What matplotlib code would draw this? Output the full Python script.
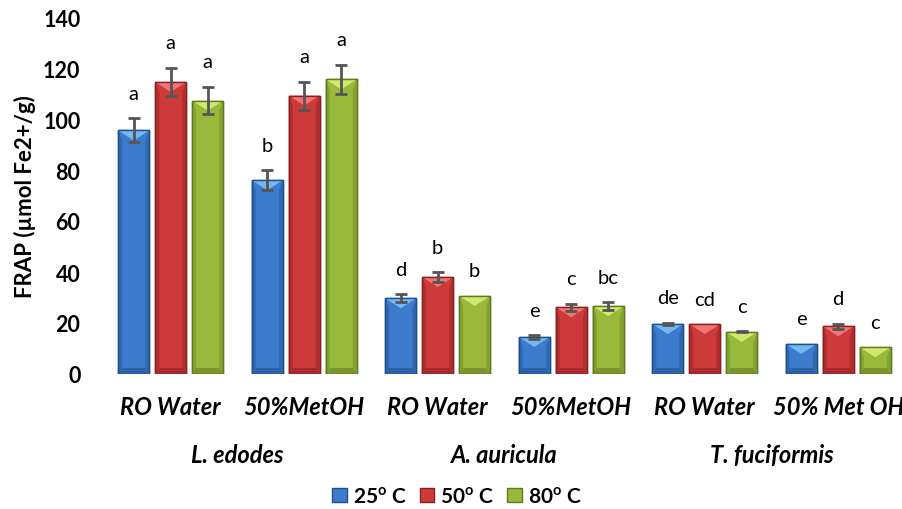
import numpy as np
import matplotlib
matplotlib.use("Agg")
import matplotlib.pyplot as plt
from matplotlib.patches import Polygon, Rectangle, Patch

# data
categories = ["RO Water", "50%MetOH", "RO Water", "50%MetOH", "RO Water", "50% Met OH"]
species = ["L. edodes", "A. auricula", "T. fuciformis"]
series = ["25$^{\\mathbf{o}}$ C", "50$^{\\mathbf{o}}$ C", "80$^{\\mathbf{o}}$ C"]

v25 = [95.5, 76.0, 29.7, 14.5, 19.6, 11.8]
e25 = [4.7, 3.9, 1.6, 0.7, 0.4, np.nan]
v50 = [114.5, 109.2, 38.0, 26.2, 19.6, 18.7]
e50 = [5.6, 5.5, 2.0, 1.3, np.nan, 1.0]
v80 = [107.2, 115.5, 30.6, 26.6, 16.5, 10.5]
e80 = [5.4, 5.8, np.nan, 1.5, 0.2, np.nan]

let25 = ["a", "b", "d", "e", "de", "e"]
let50 = ["a", "a", "b", "c", "cd", "d"]
let80 = ["a", "a", "b", "bc", "c", "c"]

# colours: main, light bevel, side shade, dark edge
main_c = ["#3d7ccc", "#cc3a3a", "#98b93c"]
light_c = ["#74b8f0", "#f07575", "#d2e76e"]
side_c = ["#3168b0", "#b02e2e", "#84a230"]
edge_c = ["#1f4e8c", "#8b2020", "#5f7a1f"]

plt.rcParams["font.family"] = "Lato"
plt.rcParams["mathtext.fontset"] = "custom"
plt.rcParams["mathtext.bf"] = "Lato:bold"
plt.rcParams["mathtext.rm"] = "Lato"

fig = plt.figure(figsize=(9.03, 5.10), dpi=100)
ax = fig.add_axes([104 / 903, 135 / 510, 801 / 903, 357 / 510])
ax.set_xlim(-0.5, 5.5)
ax.set_ylim(0, 140)

# pixel -> data conversion for bevel sizes
bb = ax.get_window_extent()
dx = 6.0 / bb.width
dy = 140.0 / bb.height

x = np.arange(len(categories))
width = 0.232
step = 0.277
vals = [v25, v50, v80]
errs = [e25, e50, e80]
lets = [let25, let50, let80]

for k in range(3):
    xs = x + (k - 1) * step
    bars = ax.bar(xs, vals[k], width, color=main_c[k], edgecolor=edge_c[k],
                  linewidth=1.0, zorder=2)
    for b in bars:
        x0, w, h = b.get_x(), b.get_width(), b.get_height()
        s = 4 * dx
        t = min(10 * dy, h * 0.5)
        bt = min(6 * dy, h * 0.3)
        # side shading
        ax.add_patch(Polygon([(x0, 0), (x0 + s, bt), (x0 + s, h - t), (x0, h)],
                             closed=True, facecolor=side_c[k], edgecolor="none", zorder=2.1))
        ax.add_patch(Polygon([(x0 + w, 0), (x0 + w - s, bt), (x0 + w - s, h - t), (x0 + w, h)],
                             closed=True, facecolor=side_c[k], edgecolor="none", zorder=2.1))
        # bottom bevel
        ax.add_patch(Polygon([(x0, 0), (x0 + w, 0), (x0 + w - s, bt), (x0 + s, bt)],
                             closed=True, facecolor=edge_c[k], alpha=0.55, edgecolor="none", zorder=2.1))
        # top highlight
        ax.add_patch(Polygon([(x0, h), (x0 + w, h), (x0 + w / 2, h - t)],
                             closed=True, facecolor=light_c[k], edgecolor="none", zorder=2.2))
        ax.add_patch(Rectangle((x0, 0), w, h, facecolor="none", edgecolor=edge_c[k],
                               linewidth=1.0, zorder=2.3))
    err = np.array(errs[k], dtype=float)
    ok = ~np.isnan(err)
    ax.errorbar(xs[ok], np.array(vals[k])[ok], yerr=err[ok], fmt="none",
                ecolor="#555555", elinewidth=2, capsize=4.5, capthick=2, zorder=3)
    for xi, v, e, lab in zip(xs, vals[k], err, lets[k]):
        top = v + (0 if np.isnan(e) else e)
        ax.annotate(lab, (xi, top), xytext=(0, 18), textcoords="offset points",
                    ha="center", va="center", fontsize=14.5, color="black")

for sp in ax.spines.values():
    sp.set_visible(False)
ax.set_yticks(np.arange(0, 141, 20))
ax.tick_params(axis="y", length=0, pad=17, labelsize=15.5)
for lb in ax.get_yticklabels():
    lb.set_fontweight("bold")
ax.set_xticks([])

tr = ax.get_xaxis_transform()
for xi, c in zip(x, categories):
    ax.text(xi, -0.092, c, transform=tr, ha="center", va="center",
            fontsize=17, fontweight="bold", fontstyle="italic")
for i, sname in enumerate(species):
    ax.text(2 * i + 0.5, -0.226, sname, transform=tr, ha="center", va="center",
            fontsize=17, fontweight="bold", fontstyle="italic")

ax.text(-0.099, 0.5, "FRAP (µmol Fe2+/g)", transform=ax.transAxes, rotation=90,
        ha="center", va="center", fontsize=16, fontweight="bold")

handles = [Patch(facecolor=main_c[k], edgecolor=edge_c[k], label=series[k]) for k in range(3)]
fig.legend(handles=handles, loc="center", bbox_to_anchor=(457 / 903, 1 - 497 / 510),
           ncol=3, frameon=False, handlelength=0.7, handleheight=0.7,
           handletextpad=0.3, columnspacing=0.6, prop={"size": 15, "weight": "bold"})

plt.savefig("out.png", dpi=100)
